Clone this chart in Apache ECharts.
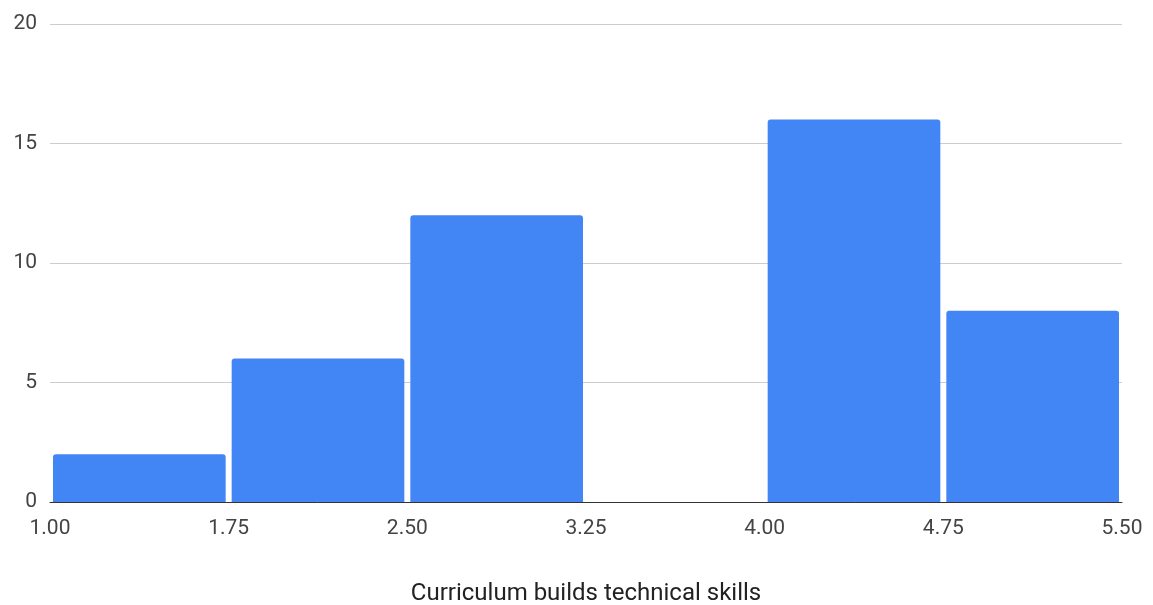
<!DOCTYPE html>
<html>
<head>
<meta charset="utf-8">
<style>
    html, body { margin: 0; padding: 0; background: #fff; }
    #main { width: 1153px; height: 605px; }
</style>
<script src="https://cdn.jsdelivr.net/npm/echarts@6/dist/echarts.min.js"></script>
</head>
<body>
<div id="main"></div>
<script>
// histogram bins (start / end) and counts
var binStarts = [1.00, 1.75, 2.50, 3.25, 4.00, 4.75];
var binEnds = [1.75, 2.50, 3.25, 4.00, 4.75, 5.50];
var counts = [2, 6, 12, 0, 16, 8];
var xTicks = ['1.00', '1.75', '2.50', '3.25', '4.00', '4.75', '5.50'];
var yTicks = [0, 5, 10, 15, 20];

var data = [];
for (var i = 0; i < counts.length; i++) {
    data.push([binStarts[i], binEnds[i], counts[i]]);
}

var myChart = echarts.init(document.getElementById('main'));

myChart.setOption({
    animation: false,
    grid: {
        left: 50,
        right: 31,
        top: 24,
        bottom: 103,
        outerBoundsMode: 'none'
    },
    xAxis: {
        type: 'value',
        min: binStarts[0],
        max: binEnds[binEnds.length - 1],
        interval: 0.75,
        name: 'Curriculum builds technical skills',
        nameLocation: 'middle',
        nameGap: 80,
        nameTextStyle: { fontSize: 24, color: '#222', fontFamily: 'Roboto' },
        axisLine: { show: true, onZero: false, lineStyle: { color: '#333', width: 1 } },
        axisTick: { show: false },
        splitLine: { show: false },
        axisLabel: {
            fontSize: 21,
            color: '#444',
            fontFamily: 'Roboto',
            margin: 16,
            showMinLabel: true,
            showMaxLabel: true,
            formatter: function (v) {
                var s = v.toFixed(2);
                return xTicks.indexOf(s) >= 0 ? s : '';
            }
        }
    },
    yAxis: {
        type: 'value',
        min: yTicks[0],
        max: yTicks[yTicks.length - 1],
        interval: 5,
        axisLine: { show: false },
        axisTick: { show: false },
        splitLine: { lineStyle: { color: '#ccc', width: 1 } },
        axisLabel: { fontSize: 21, color: '#444', fontFamily: 'Roboto', margin: 13 }
    },
    series: [{
        type: 'custom',
        data: data,
        encode: { x: [0, 1], y: 2 },
        renderItem: function (params, api) {
            var p0 = api.coord([api.value(0), api.value(2)]);
            var p1 = api.coord([api.value(1), 0]);
            var gap = 3;
            var h = p1[1] - p0[1];
            if (h <= 0) return null;
            return {
                type: 'rect',
                shape: {
                    x: p0[0] + gap,
                    y: p0[1],
                    width: p1[0] - p0[0] - gap * 2,
                    height: h,
                    r: [3, 3, 0, 0]
                },
                style: { fill: '#4285f4' }
            };
        }
    }]
});
</script>
</body>
</html>
